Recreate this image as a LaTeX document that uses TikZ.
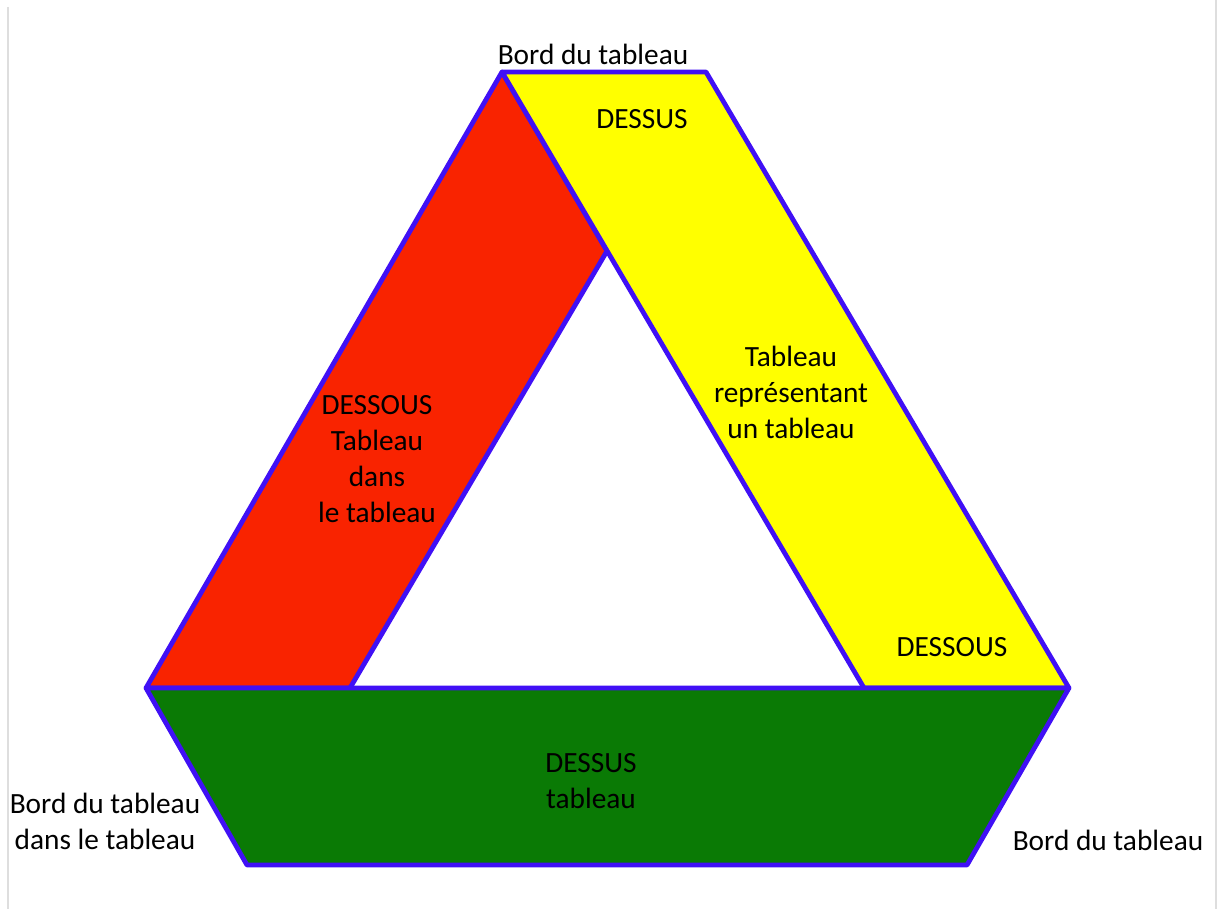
\documentclass[tikz,border=0pt]{standalone}
\usepackage{fontspec}
\setmainfont{Carlito}
\usetikzlibrary{positioning}
\definecolor{bordblue}{RGB}{64,16,245}
\definecolor{dessousred}{RGB}{249,35,0}
\definecolor{dessusyellow}{RGB}{255,255,0}
\definecolor{dessusgreen}{RGB}{10,122,5}
\definecolor{framegray}{RGB}{222,222,222}

\begin{document}
\begin{tikzpicture}[x=0.75pt,y=-0.75pt,every node/.style={font=\fontsize{22}{27}\selectfont,align=center,inner sep=0pt},
  band/.style={draw=bordblue,line width=3.6pt,line join=round}]
\useasboundingbox (0,0) rectangle (1225,909);
\draw[framegray,line width=1.2pt](8,7)--(8,909);
\draw[framegray,line width=1.2pt](1216,0)--(1216,909);

  \coordinate (apex) at (502,72);
  \coordinate (topright) at (706,72);
  \coordinate (right) at (1069,688);
  \coordinate (inright) at (864,688);
  \coordinate (intop) at (607,251);
  \coordinate (inleft) at (350,688);
  \coordinate (left) at (146,688);
  \coordinate (botright) at (967,865);
  \coordinate (botleft) at (247,865);

\fill[dessousred,band](apex)--(intop)--(inleft)--(left)--cycle;
\fill[dessusyellow,band](apex)--(topright)--(right)--(inright)--cycle;
\fill[dessusgreen,band](left)--(right)--(botright)--(botleft)--cycle;

  \node (bordtop) at (593,54){Bord du tableau};
  \node (dessustop) at (642,119){DESSUS};
  \node (represente) at (791,392){Tableau\\représentant\\un tableau};
  \node (dessousright) at (952,647){DESSOUS};
  \node (dessousleft) at (377,459){DESSOUS\\Tableau\\dans\\le tableau};
  \node (dessusbas) at (591,781){DESSUS\\tableau};
  \node (bordleft) at (105,821){Bord du tableau\\dans le tableau};
  \node (bordright) at (1108,840){Bord du tableau};
  \end{tikzpicture}
\end{document}
